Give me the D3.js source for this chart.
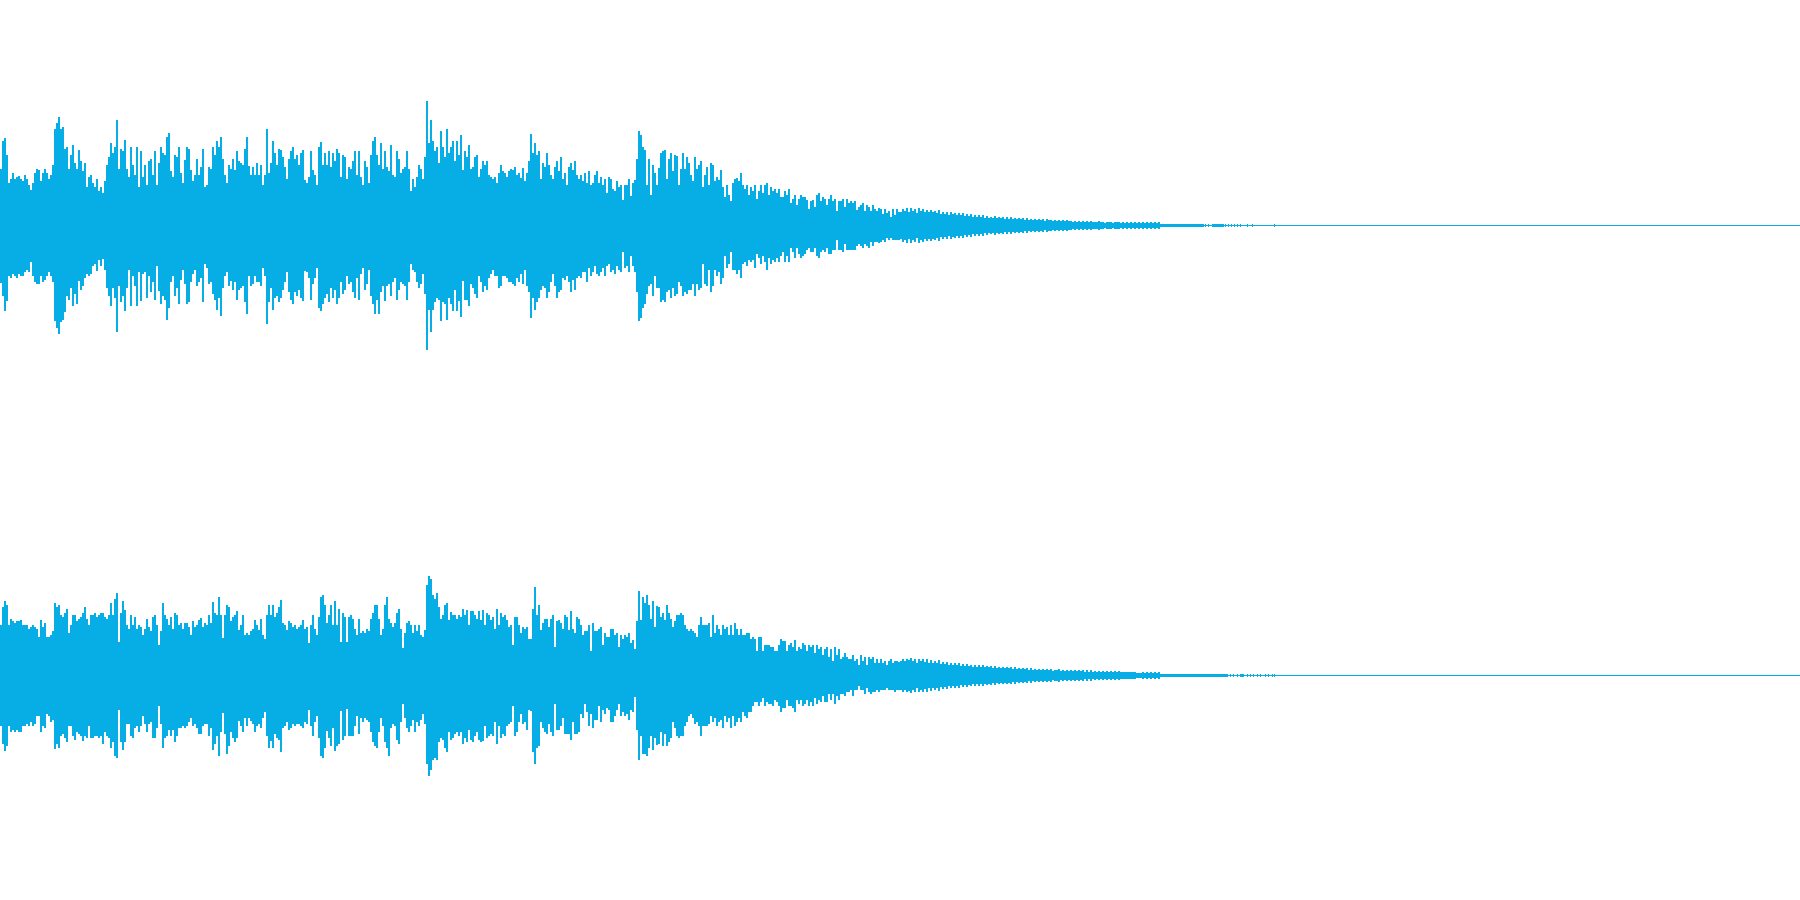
<!DOCTYPE html>
<html><head><meta charset="utf-8">
<style>html,body{margin:0;padding:0;background:#fff;overflow:hidden}svg{display:block}</style>
<script src="https://cdn.jsdelivr.net/npm/d3@7"></script>
</head><body><svg id="chart" width="1800" height="900"></svg>
<script>
// Peak amplitude per 2 time units (full scale = 225)
const ch1Top=[56,84,87,70,42,46,52,46,48,49,46,44,50,46,40,35,42,52,56,55,44,52,56,52,46,50,60,96,102,108,96,98,76,78,56,70,80,62,56,75,64,54,62,38,48,50,42,38,46,34,38,32,44,60,68,82,72,78,105,56,76,74,85,56,48,78,60,50,78,38,74,48,60,40,64,66,50,74,40,62,78,72,70,88,92,54,48,70,68,78,52,42,65,78,76,55,44,50,66,50,58,76,38,40,58,56,78,70,84,78,88,66,50,42,60,56,66,55,74,64,62,60,76,88,59,50,58,50,62,50,60,40,50,96,52,62,84,72,60,76,75,68,58,46,66,74,78,66,70,60,72,75,45,42,48,74,55,50,40,78,83,60,72,60,74,58,72,64,76,72,48,70,68,46,58,56,64,74,50,74,48,40,64,58,42,70,84,88,70,60,82,56,74,58,54,80,50,48,74,66,52,56,58,74,56,34,46,38,48,60,56,46,68,124,82,105,84,74,78,62,94,78,68,96,72,
78,84,64,84,70,90,55,74,68,80,56,58,68,70,48,56,64,60,64,50,48,46,48,42,52,60,54,52,48,54,56,55,58,50,52,47,57,44,52,64,91,72,82,70,74,46,62,58,72,60,50,46,58,64,54,68,46,52,40,58,62,55,64,50,46,50,44,52,42,54,40,42,50,54,42,48,40,46,32,48,46,36,34,44,38,40,25,40,40,46,29,42,45,66,94,90,78,75,40,66,30,60,52,40,57,72,74,75,46,66,72,54,70,69,40,56,72,56,68,62,50,44,68,56,60,64,38,50,58,40,62,60,44,48,45,55,38,28,40,30,24,42,46,47,44,52,40,36,40,30,38,34,40,26,34,40,32,40,42,30,38,34,36,32,36,28,28,34,30,36,22,26,30,20,26,30,28,28,25,16,24,25,18,30,32,24,28,26,20,26,30,24,26,14,24,24,26,18,26,22,24,22,24,15,18,20,22,14,20,18,14,20,16,14,17,16,11,16,12,14,8,16,10,16,13];
const ch1Bottom=[57,70,85,75,50,52,48,50,52,48,50,50,46,44,46,36,50,56,58,58,50,56,54,50,46,50,56,95,102,108,96,94,86,70,74,62,80,68,78,55,64,60,52,48,50,48,40,38,45,34,40,33,44,62,70,80,62,72,106,60,76,70,85,62,44,80,50,60,80,46,75,48,46,72,50,66,56,74,40,65,78,70,74,94,82,56,50,70,62,78,54,44,58,78,76,56,48,44,60,56,52,76,38,42,58,56,68,74,84,72,90,62,50,46,60,55,64,56,74,64,62,60,76,88,50,60,58,50,56,56,60,42,50,98,76,62,84,72,70,76,72,64,56,46,66,74,78,66,70,64,72,75,45,46,52,74,58,52,42,82,85,78,72,68,76,62,72,64,78,72,56,68,64,50,58,56,66,72,52,74,48,42,64,58,44,70,78,88,74,88,66,60,75,60,58,70,56,52,74,64,56,58,60,74,56,38,44,46,56,62,58,48,68,124,84,106,84,76,72,74,95,76,78,94,72,
78,85,64,85,75,91,55,74,74,80,58,62,68,72,50,56,66,60,64,52,48,44,50,50,62,60,50,50,52,56,56,58,60,52,56,48,58,44,60,66,92,72,84,76,72,64,60,62,72,66,56,48,60,72,66,64,52,54,50,56,66,54,64,52,50,52,46,46,56,42,50,46,40,48,50,46,42,50,40,38,46,44,48,40,44,46,26,42,40,46,30,40,46,66,95,92,82,78,68,60,58,70,50,62,62,76,74,76,66,64,72,62,70,68,56,60,70,66,68,64,64,58,70,58,64,62,38,58,60,44,66,60,44,50,46,58,52,30,42,38,26,44,44,48,44,52,38,36,40,34,36,34,42,28,32,38,30,36,44,32,38,34,36,32,36,30,26,36,30,36,22,26,32,22,28,32,30,28,24,22,26,26,22,30,32,26,24,26,22,28,28,24,24,14,24,24,26,18,24,24,24,24,24,20,18,20,22,18,20,22,16,20,16,16,17,16,14,16,12,14,12,14,14,14,14];
const ch2Top=[50,68,74,70,50,56,54,52,54,54,55,50,50,50,46,48,50,48,46,38,55,48,52,38,38,40,44,72,68,70,60,58,62,66,42,50,60,60,54,56,58,62,68,56,50,60,60,62,58,60,62,62,58,56,60,72,60,76,82,33,62,74,65,50,46,60,50,58,46,50,48,40,46,56,48,44,58,60,50,30,44,72,60,56,50,58,46,62,60,50,52,46,52,52,48,40,54,48,50,55,57,48,52,50,60,52,73,62,60,78,60,37,60,70,68,54,58,60,64,45,50,60,40,42,40,44,46,55,50,45,56,40,36,60,70,60,70,58,62,68,75,52,50,45,54,52,48,50,46,48,50,55,46,48,32,50,60,46,40,58,78,80,70,52,60,70,50,74,50,66,33,62,58,33,58,60,56,46,40,56,42,44,42,46,44,56,62,70,70,56,40,46,70,78,56,52,48,52,62,66,46,27,42,52,54,50,42,50,44,50,40,38,45,90,99,96,80,76,82,68,56,60,70,72,55,
63,60,60,56,60,58,66,60,65,50,64,64,60,56,64,55,65,50,62,60,55,58,46,66,50,62,58,60,55,48,50,30,58,58,50,42,48,46,48,36,36,66,88,60,70,45,52,56,56,48,56,60,28,54,55,52,46,60,58,45,64,46,42,58,56,50,40,44,44,50,24,52,44,44,46,48,30,42,38,38,46,46,40,42,28,40,36,40,38,42,32,35,26,54,84,55,78,72,80,70,56,74,48,69,68,58,62,55,70,62,56,48,54,60,60,62,60,50,46,44,46,44,42,38,50,58,50,50,50,52,38,60,42,50,46,40,50,46,48,40,50,40,52,46,40,46,40,40,42,42,36,38,36,24,38,38,24,30,30,30,28,28,24,24,30,36,34,34,24,30,32,28,35,24,28,26,32,30,24,30,28,30,22,30,26,28,20,26,28,18,26,14,28,20,26,16,18,22,18,16,16,20,14,16,10,20,14,18,10,18,16,18,12,16,12,16,12,14,10,14,16,12,14,14,13];
const ch2Bottom=[50,68,75,70,50,56,54,56,54,56,56,50,50,48,50,46,50,48,40,40,56,50,52,38,40,46,44,73,68,72,60,58,62,66,50,50,60,64,56,58,60,65,60,62,50,62,62,60,60,62,60,68,56,60,62,72,66,80,82,34,66,74,66,48,48,60,62,52,50,56,50,40,48,56,48,46,62,62,52,30,48,72,62,60,54,60,54,66,60,52,52,50,52,50,46,42,50,48,52,58,58,50,48,48,60,52,74,68,60,80,56,37,58,78,70,56,62,66,62,45,50,56,42,50,42,45,48,56,50,48,52,42,36,60,72,65,72,58,62,64,76,52,50,46,54,52,48,50,48,48,50,52,46,48,34,50,60,46,40,62,80,82,72,55,62,70,52,75,70,68,35,64,60,33,60,60,60,50,40,58,42,46,42,44,46,56,66,70,72,56,42,50,66,72,80,52,48,50,64,68,46,28,42,52,56,50,44,56,46,50,44,38,48,88,100,94,84,82,84,66,62,64,72,76,56,
64,62,58,56,60,56,68,62,66,54,64,66,60,56,64,66,65,50,62,60,58,60,46,68,50,62,58,60,50,48,46,30,60,56,46,38,48,46,54,34,35,76,88,72,70,46,52,56,58,48,56,60,28,54,54,50,42,58,58,58,64,46,58,58,56,38,42,28,36,50,38,52,44,44,30,46,34,38,32,34,46,46,40,34,28,40,36,40,38,44,34,36,21,54,84,60,78,78,80,72,60,74,62,69,68,56,70,58,70,66,62,46,52,60,62,60,60,50,46,40,38,42,48,46,50,60,50,50,50,48,40,46,42,50,46,44,52,40,46,42,52,40,50,46,42,46,36,40,42,36,36,30,26,26,30,26,22,30,26,28,28,30,24,26,30,36,32,32,24,30,30,32,36,24,28,24,30,28,24,30,26,30,22,28,24,26,20,26,26,18,24,18,28,20,24,18,18,20,16,16,14,20,14,14,10,14,14,18,12,16,18,16,16,14,16,14,14,14,12,14,14,14,16,14,14];
// Decay tail per 2 time units from t=900 (symmetric about the centre line)
const ch1Tail=[13,16,14,17,13,17,14,16,12,17,14,16,13,15,13,15,13,14,12,15,11,13,11,13,10,13,11,12,10,12,10,12,9,11,9,11,8,10,8,10,8,10,7,9,7,8,7,9,7,8,7,8,6,8,6,8,6,7,6,7,6,7,5,7,5,6,5,6,5,6,5,6,4,6,5,5,4,5,4,5,4,5,4,5,4,4,3,4,3,4,3,4,3,4,3,4,3,3,3,4,3,3,2,3,3,3,2,3,3,3,2,3,2,3,2,3,2,3,2,3,2,3,2,3,2,3,2,3,2,3,1,1,1,1,1,1,1,1,1,1,1,1,1,1,1,1,1,1,1,1,1,1];
const ch2Tail=[14,16,14,16,15,17,14,16,12,16,14,16,13,16,12,15,12,14,12,15,11,13,11,13,10,12,10,12,10,12,9,11,9,11,9,10,8,10,8,10,8,10,8,9,8,9,7,9,7,8,7,8,7,8,7,8,6,8,6,7,6,7,6,7,5,7,5,6,5,6,5,6,5,6,5,6,4,5,5,6,4,5,4,5,4,5,4,5,4,5,4,5,3,5,3,5,3,4,3,4,3,4,3,4,3,4,3,4,3,4,3,3,3,3,3,3,3,3,2,2,2,3,2,3,2,3,2,3,2,3,1,1,1,1,1,1,1,1,1,1,1,1,1,1,1,1,1,1,1,1,1,1,1,1,1,1,1,1,1,1,1,1,1,1];
// Isolated clicks at the very end of the decay
const ch1Clicks=[1205,1208,1212,1213,1214,1215,1216,1217,1218,1219,1220,1221,1222,1223,1225,1228,1231,1234,1237,1240,1247,1252,1274];
const ch2Clicks=[1230,1233,1237,1240,1241,1242,1243,1247,1250,1253,1257,1260,1265,1268,1272,1274];
const clickAmp=1, STEP=2, TAIL_START=900, DURATION=1800, FULL=225;
const COLOR="#06AEE5";

const svg=d3.select("#chart");
const x=d3.scaleLinear().domain([0,DURATION]).range([0,1800]);
const channels=[
 {top:ch1Top,bottom:ch1Bottom,tail:ch1Tail,clicks:ch1Clicks,range:[450,0]},
 {top:ch2Top,bottom:ch2Bottom,tail:ch2Tail,clicks:ch2Clicks,range:[900,450]}
];
channels.forEach(c=>{
  const y=d3.scaleLinear().domain([-FULL,FULL]).range(c.range);
  const g=svg.append("g").attr("shape-rendering","crispEdges").attr("fill",COLOR);
  const cols=c.top.map((t,i)=>({t0:i*STEP,w:STEP,up:t,down:c.bottom[i]}))
    .concat(c.tail.map((a,i)=>({t0:TAIL_START+i*STEP,w:STEP,up:a,down:a})))
    .concat(c.clicks.map(t=>({t0:t,w:1,up:clickAmp,down:clickAmp})));
  const rowH=y(-1)-y(0); // the centre line fills one pixel row below the zero level
  g.selectAll("rect.col").data(cols).join("rect").attr("class","col")
    .attr("x",d=>x(d.t0)).attr("width",d=>x(d.t0+d.w)-x(d.t0))
    .attr("y",d=>y(d.up)).attr("height",d=>y(-d.down)-y(d.up)+rowH);
  g.append("rect").attr("x",x(0)).attr("width",x(DURATION)-x(0))
    .attr("y",y(0)).attr("height",rowH);
});
</script></body></html>
